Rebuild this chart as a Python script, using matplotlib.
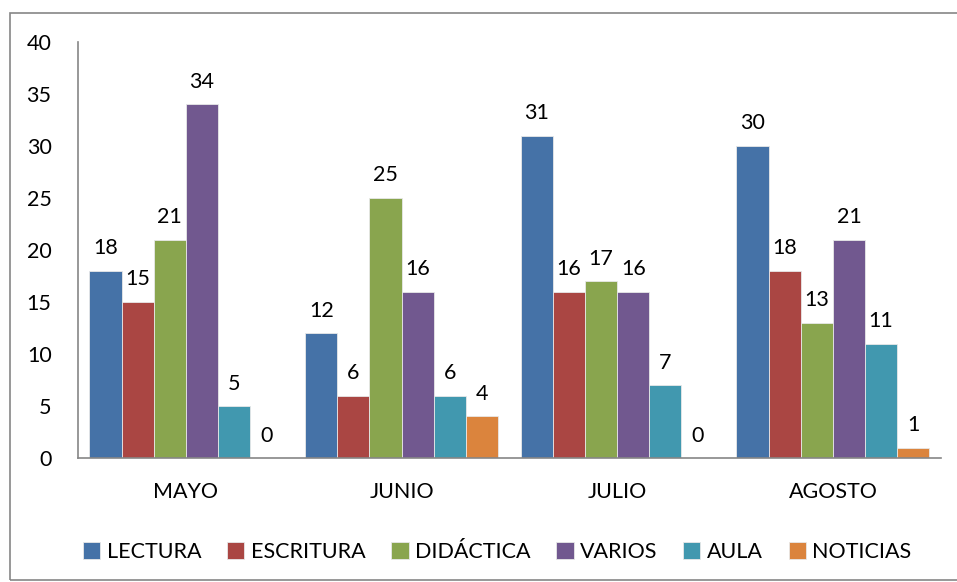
import numpy as np
import matplotlib.pyplot as plt
from matplotlib.patches import Rectangle

months = ['MAYO', 'JUNIO', 'JULIO', 'AGOSTO']
series = ['LECTURA', 'ESCRITURA', 'DIDÁCTICA', 'VARIOS', 'AULA', 'NOTICIAS']
lectura = [18, 12, 31, 30]
escritura = [15, 6, 16, 18]
didactica = [21, 25, 17, 13]
varios = [34, 16, 16, 21]
aula = [5, 6, 7, 11]
noticias = [0, 4, 0, 1]

colors = ['#4572A7', '#AA4643', '#89A54E', '#71588F', '#4198AF', '#DB843D']
values = [lectura, escritura, didactica, varios, aula, noticias]

plt.rcParams['font.family'] = ['Lato', 'DejaVu Sans']

fig = plt.figure(figsize=(9.57, 5.82), dpi=100)
ax = fig.add_axes([0.0815, 0.213, 0.9015, 0.715])

x = np.arange(len(months))
w = 0.149
for i, (name, vals) in enumerate(zip(series, values)):
    pos = x + (i - 2.5) * w
    bars = ax.bar(pos, vals, width=w, color=colors[i], edgecolor='#e8e8e8',
                  linewidth=0.6, label=name)
    for b, v in zip(bars, vals):
        ax.annotate(str(v), (b.get_x() + b.get_width() / 2, v),
                    xytext=(0, 9), textcoords='offset points',
                    ha='center', va='bottom', fontsize=15.5)

ax.set_xlim(-0.5, 3.5)
ax.set_ylim(0, 40)
ax.set_yticks(range(0, 41, 5))
ax.set_xticks(x)
ax.set_xticklabels(months)
ax.tick_params(axis='both', length=0, labelsize=15.5)
ax.tick_params(axis='y', pad=19)
ax.tick_params(axis='x', pad=17)
for s in ['top', 'right']:
    ax.spines[s].set_visible(False)
for s in ['left', 'bottom']:
    ax.spines[s].set_color('#868686')
    ax.spines[s].set_linewidth(1.2)

ax.legend(loc='upper center', bbox_to_anchor=(0.486, -0.155), ncol=6,
          frameon=False, fontsize=15.5, handlelength=0.8, handleheight=0.8,
          handletextpad=0.3, columnspacing=1.2)

fig.patches.append(Rectangle((10 / 957, 2 / 582), 960 / 957, 567 / 582,
                             transform=fig.transFigure, fill=False,
                             edgecolor='#868686', linewidth=1.2))

fig.savefig('out.png', dpi=100)
